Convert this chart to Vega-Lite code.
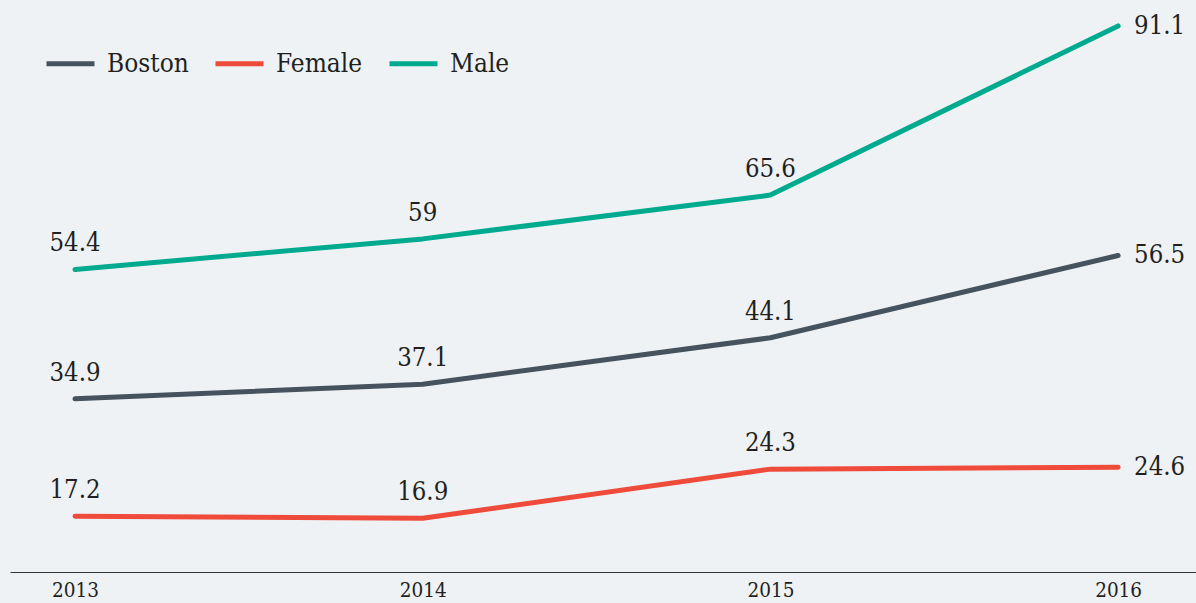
{
  "$schema": "https://vega.github.io/schema/vega-lite/v6.json",
  "width": 1186,
  "height": 572,
  "autosize": {"type": "none"},
  "padding": {"left": 10, "top": 0, "right": 0, "bottom": 31},
  "background": "#eef2f5",
  "config": {
    "view": {"stroke": null},
    "font": "DejaVu Serif Condensed, serif",
    "text": {"font": "DejaVu Serif Condensed, serif"}
  },
  "data": {
    "values": [
      {"year": 2013, "series": "Boston", "value": 34.9},
      {"year": 2014, "series": "Boston", "value": 37.1},
      {"year": 2015, "series": "Boston", "value": 44.1},
      {"year": 2016, "series": "Boston", "value": 56.5},
      {"year": 2013, "series": "Female", "value": 17.2},
      {"year": 2014, "series": "Female", "value": 16.9},
      {"year": 2015, "series": "Female", "value": 24.3},
      {"year": 2016, "series": "Female", "value": 24.6},
      {"year": 2013, "series": "Male", "value": 54.4},
      {"year": 2014, "series": "Male", "value": 59},
      {"year": 2015, "series": "Male", "value": 65.6},
      {"year": 2016, "series": "Male", "value": 91.1}
    ]
  },
  "encoding": {
    "x": {
      "field": "year",
      "type": "quantitative",
      "scale": {"domain": [2012.813, 2016.224], "nice": false, "zero": false},
      "axis": {
        "values": [2013, 2014, 2015, 2016],
        "format": "d",
        "title": null,
        "ticks": false,
        "grid": false,
        "domainColor": "#333333",
        "domainWidth": 1,
        "labelFontSize": 20.5,
        "labelColor": "#231f20",
        "labelPadding": 8,
        "labelFont": "DejaVu Serif Condensed, serif",
        "labelFlush": false
      }
    },
    "y": {
      "field": "value",
      "type": "quantitative",
      "scale": {"domain": [8.8, 95], "nice": false, "zero": false},
      "axis": null
    }
  },
  "layer": [
    {
      "mark": {"type": "line", "strokeWidth": 5, "strokeCap": "round", "strokeJoin": "round"},
      "encoding": {
        "color": {
          "field": "series",
          "type": "nominal",
          "scale": {"domain": ["Boston", "Female", "Male"], "range": ["#46535e", "#ef4b3a", "#00aa8f"]},
          "legend": {
            "title": null,
            "orient": "none",
            "direction": "horizontal",
            "legendX": 34,
            "legendY": 37,
            "padding": 0,
            "symbolType": "stroke",
            "symbolSize": 2304,
            "symbolStrokeWidth": 5,
            "labelFontSize": 26,
            "labelColor": "#231f20",
            "labelFont": "DejaVu Serif Condensed, serif",
            "labelOffset": 10,
            "columnPadding": 16,
            "labelLimit": 300
          }
        }
      }
    },
    {
      "transform": [{"filter": "datum.year < 2016"}],
      "mark": {"type": "text", "dy": -26, "fontSize": 25.5, "color": "#231f20", "align": "center", "baseline": "middle"},
      "encoding": {"text": {"field": "value", "type": "quantitative"}}
    },
    {
      "transform": [{"filter": "datum.year == 2016"}],
      "mark": {"type": "text", "dx": 16, "fontSize": 25.5, "color": "#231f20", "align": "left", "baseline": "middle"},
      "encoding": {"text": {"field": "value", "type": "quantitative"}}
    }
  ]
}
